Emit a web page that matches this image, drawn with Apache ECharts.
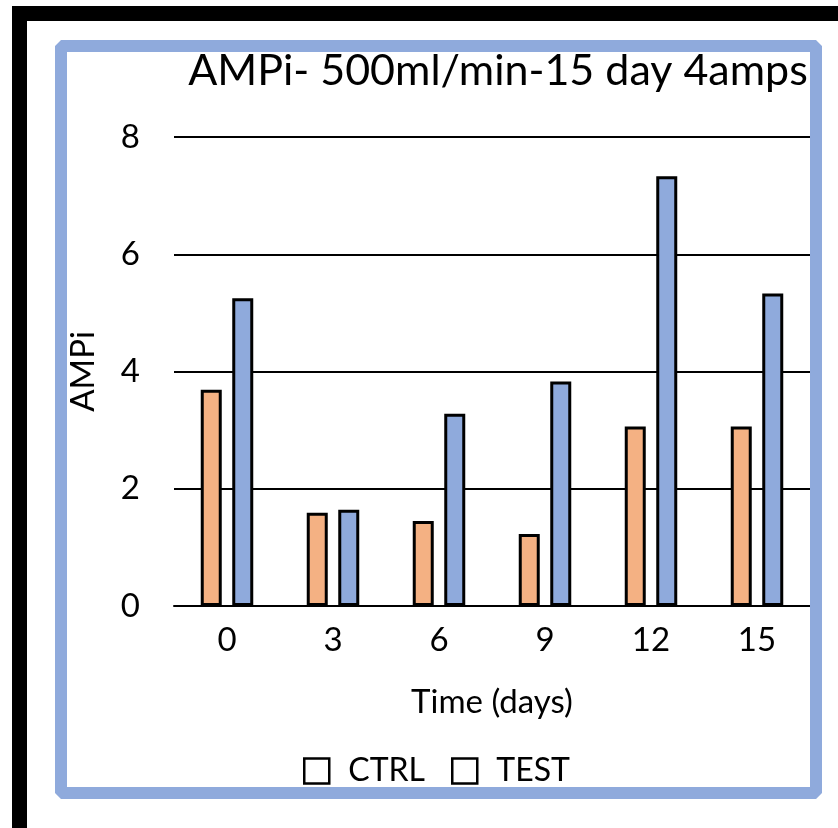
<!DOCTYPE html>
<html>
<head>
<meta charset="utf-8">
<script src="https://cdn.jsdelivr.net/npm/echarts@6/dist/echarts.min.js"></script>
<style>
html,body{margin:0;padding:0;background:#fff;}
#chart{width:838px;height:828px;}
</style>
</head>
<body>
<div id="chart"></div>
<script>
const categories = ['0', '3', '6', '9', '12', '15'];
const ctrlValues = [3.69, 1.59, 1.45, 1.23, 3.06, 3.06];
const testValues = [5.25, 1.64, 3.28, 3.83, 7.33, 5.33];
const seriesNames = ['CTRL', 'TEST'];
const yTicks = { min: 0, max: 8, interval: 2 };
const titleText = 'AMPi- 500ml/min-15 day 4amps';
const xName = 'Time (days)';
const yName = 'AMPi';

const FONT = 'Lato';
const chart = echarts.init(document.getElementById('chart'), null, { renderer: 'canvas' });
chart.setOption({
  backgroundColor: '#fff',
  animation: false,
  textStyle: { fontFamily: FONT, color: '#000' },
  title: {
    text: titleText,
    left: 493,
    textAlign: 'center',
    top: 45,
    textStyle: { fontFamily: FONT, fontSize: 43, fontWeight: 'normal', color: '#000' }
  },
  graphic: [
    { type: 'rect', shape: { x: 19.5, y: 13.5, width: 1000, height: 1000 },
      style: { fill: 'none', stroke: '#000', lineWidth: 15 }, z: 100 },
    { type: 'rect', shape: { x: 61, y: 46, width: 755, height: 747 },
      style: { fill: 'none', stroke: '#8FAADC', lineWidth: 12, lineJoin: 'bevel' }, z: 100 }
  ],
  legend: {
    data: seriesNames,
    left: 303,
    top: 755,
    padding: 0,
    itemWidth: 25,
    itemHeight: 25,
    itemGap: 26,
    icon: 'rect',
    itemStyle: { color: '#fff', borderColor: '#000', borderWidth: 2.5 },
    textStyle: { fontFamily: FONT, fontSize: 32, color: '#000', padding: [0, 0, 0, 14] }
  },
  grid: { left: 174, right: 28, top: 137, bottom: 222, containLabel: false },
  xAxis: {
    type: 'category',
    data: categories,
    name: xName,
    nameLocation: 'middle',
    nameGap: 80,
    nameTextStyle: { fontFamily: FONT, fontSize: 33, color: '#000' },
    axisLine: { show: true, lineStyle: { color: '#000', width: 2 } },
    axisTick: { show: false },
    axisLabel: { fontFamily: FONT, fontSize: 33, color: '#000', margin: 18 }
  },
  yAxis: {
    type: 'value',
    min: yTicks.min,
    max: yTicks.max,
    interval: yTicks.interval,
    name: yName,
    nameLocation: 'middle',
    nameRotate: 90,
    nameGap: 74,
    nameTextStyle: { fontFamily: FONT, fontSize: 33, color: '#000' },
    axisLine: { show: false },
    axisTick: { show: false },
    splitLine: { show: true, lineStyle: { color: '#000', width: 2 } },
    axisLabel: { fontFamily: FONT, fontSize: 33, color: '#000', margin: 34 }
  },
  series: [
    { name: seriesNames[0], type: 'bar', data: ctrlValues, barWidth: 21, barGap: '50%',
      itemStyle: { color: '#F4B183', borderColor: '#000', borderWidth: 3 } },
    { name: seriesNames[1], type: 'bar', data: testValues, barWidth: 21, barGap: '50%',
      itemStyle: { color: '#8FAADC', borderColor: '#000', borderWidth: 3 } }
  ]
});
</script>
</body>
</html>
